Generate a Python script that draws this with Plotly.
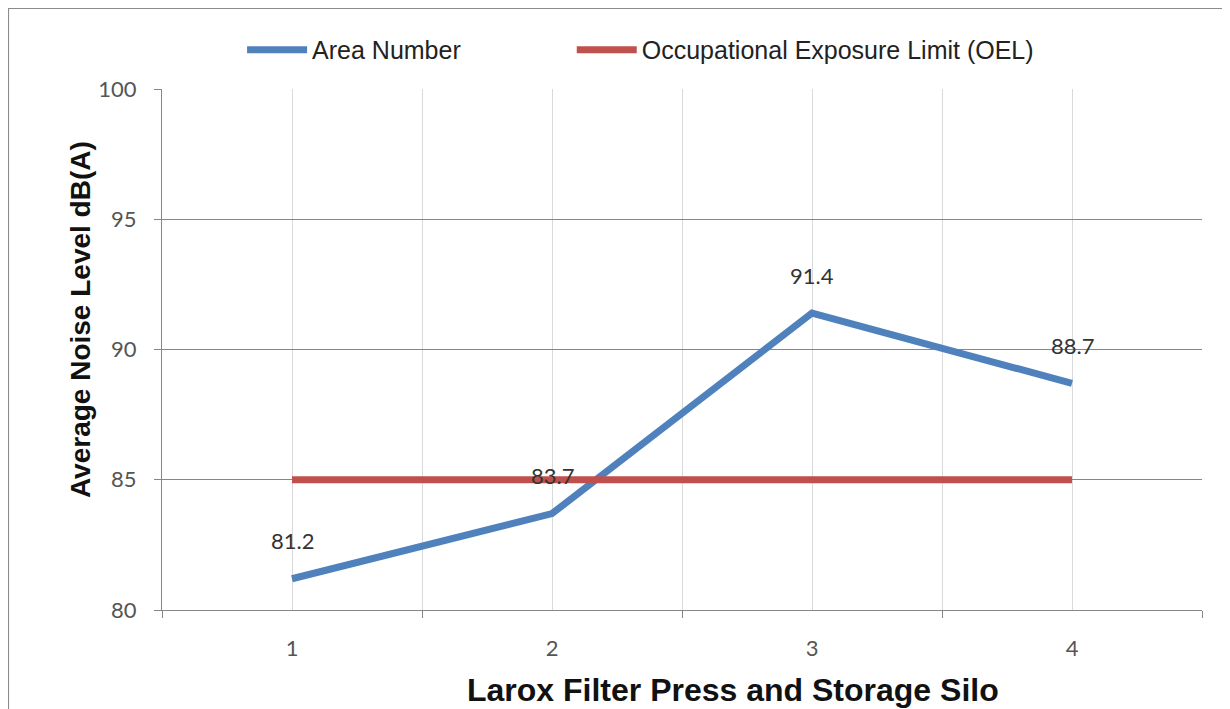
import plotly.graph_objects as go

areas = [1, 2, 3, 4]
area_labels = ["1", "2", "3", "4"]
noise_levels = [81.2, 83.7, 91.4, 88.7]
oel_levels = [85, 85, 85, 85]
boundaries = [0.5, 1.5, 2.5, 3.5, 4.5]
y_ticks = [80, 85, 90, 95, 100]

x_title = "Larox Filter Press and Storage Silo"
y_title = "Average Noise Level dB(A)"

BLUE = "#4F81BD"
RED = "#C0504D"

fig = go.Figure()
fig.add_trace(go.Scatter(x=areas, y=noise_levels, mode="lines", name="Area Number",
                         line=dict(color=BLUE, width=7), legend="legend"))
fig.add_trace(go.Scatter(x=areas, y=oel_levels, mode="lines",
                         name="Occupational Exposure Limit (OEL)",
                         line=dict(color=RED, width=7), legend="legend2"))

for xv, yv in zip(areas, noise_levels):
    fig.add_annotation(x=xv, y=yv, text=f"{yv:.1f}", showarrow=False, yshift=38,
                       font=dict(family="Lato, Liberation Sans", size=22, color="#333"))

# axis titles placed as annotations to match the reference placement
fig.add_annotation(xref="paper", yref="paper", x=0.549, y=-0.1536, text=f"<b>{x_title}</b>",
                   showarrow=False, xanchor="center", yanchor="middle",
                   font=dict(family="Liberation Sans, Arial", size=32, color="#111"))
fig.add_annotation(xref="paper", yref="paper", x=-0.0788, y=0.5566, text=f"<b>{y_title}</b>",
                   showarrow=False, xanchor="center", yanchor="middle", textangle=-90,
                   font=dict(family="Liberation Sans, Arial", size=28, color="#111"))

fig.add_shape(type="rect", xref="paper", yref="paper", x0=-0.148, x1=1.022, y0=-0.3, y1=1.1555,
              line=dict(color="#8c8c8c", width=2), layer="below")

legend_font = dict(family="Liberation Sans, Arial", size=25, color="#222")

fig.update_layout(
    width=1222, height=701,
    paper_bgcolor="white", plot_bgcolor="white",
    margin=dict(l=154, r=28, t=81, b=99),
    showlegend=True,
    legend=dict(orientation="h", x=0.077, xanchor="left", y=1.075, yanchor="middle",
                font=legend_font, itemwidth=60),
    legend2=dict(orientation="h", x=0.394, xanchor="left", y=1.075, yanchor="middle",
                 font=legend_font, itemwidth=60),
    xaxis=dict(range=[0.5, 4.5], tickvals=areas, ticktext=area_labels, ticks="",
               automargin=False,
               showgrid=True, gridcolor="#d9d9d9", gridwidth=1,
               showline=True, linecolor="#868686", linewidth=1,
               tickfont=dict(family="Lato, Liberation Sans", size=22, color="#555"),
               ticklabelstandoff=19, zeroline=False,
               minor=dict(tickvals=boundaries, ticks="outside", ticklen=7, tickcolor="#868686",
                          showgrid=True, gridcolor="#d9d9d9", gridwidth=1)),
    yaxis=dict(range=[80, 100], tickvals=y_ticks, ticks="outside", ticklen=7, tickcolor="#868686",
               automargin=False,
               showgrid=True, gridcolor="#868686", gridwidth=1,
               showline=True, linecolor="#868686", linewidth=1, zeroline=False,
               tickfont=dict(family="Lato, Liberation Sans", size=22, color="#555"),
               ticklabelstandoff=13),
)

fig.write_html("out.html")
